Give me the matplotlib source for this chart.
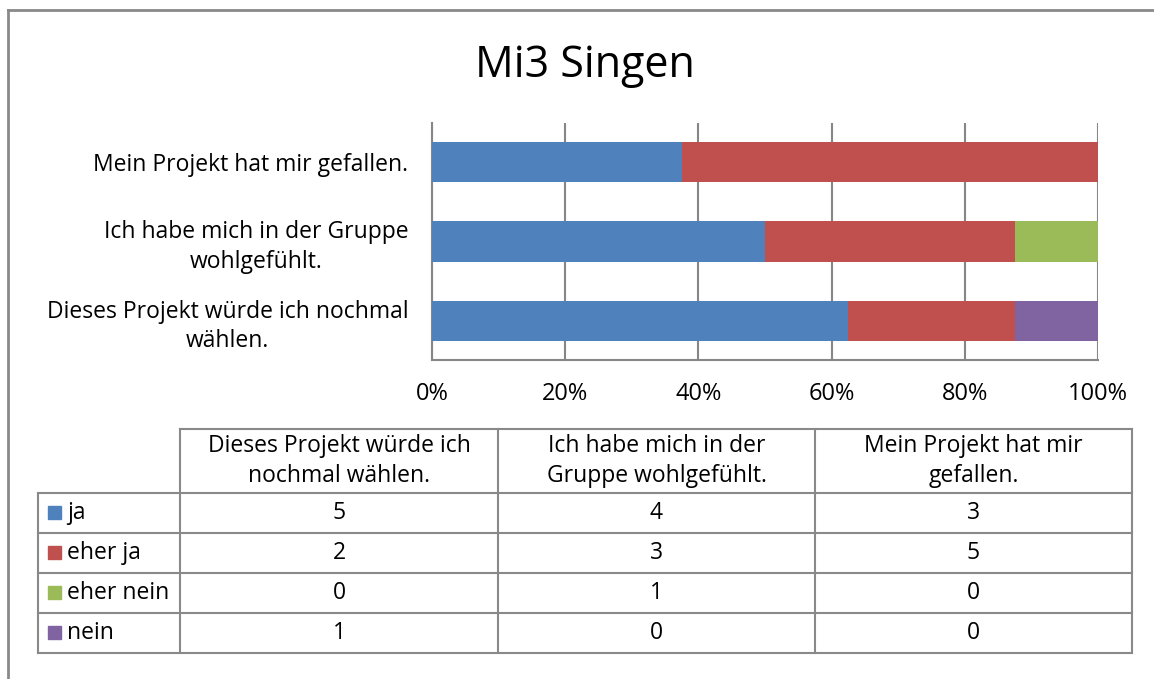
import numpy as np
import matplotlib.pyplot as plt

plt.rcParams['font.family'] = ['Open Sans', 'DejaVu Sans']

# data
questions = ['Dieses Projekt würde ich nochmal wählen.',
             'Ich habe mich in der Gruppe wohlgefühlt.',
             'Mein Projekt hat mir gefallen.']
axis_labels = ['Dieses Projekt würde ich nochmal\nwählen.',
               'Ich habe mich in der Gruppe\nwohlgefühlt.',
               'Mein Projekt hat mir gefallen.']
header_labels = ['Dieses Projekt würde ich\nnochmal wählen.',
                 'Ich habe mich in der\nGruppe wohlgefühlt.',
                 'Mein Projekt hat mir\ngefallen.']
answers = ['ja', 'eher ja', 'eher nein', 'nein']
ja = [5, 4, 3]
eher_ja = [2, 3, 5]
eher_nein = [0, 1, 0]
nein = [1, 0, 0]
colors = ['#4F81BD', '#C0504D', '#9BBB59', '#8064A2']

W, H = 1154, 679
fs = 16.5
fig = plt.figure(figsize=(W / 100, H / 100), dpi=100)

series = np.array([ja, eher_ja, eher_nein, nein], dtype=float)
totals = series.sum(axis=0)
pct = series / totals * 100

# bar chart
ax = fig.add_axes([432 / W, 1 - 360 / H, 666 / W, 237 / H])
y = np.arange(len(questions))
left = np.zeros(len(questions))
for i in range(len(answers)):
    ax.barh(y, pct[i], left=left, height=0.503, color=colors[i], zorder=3)
    left += pct[i]
ax.set_xlim(0, 100)
ax.set_ylim(-0.49, 2.49)
ax.set_xticks(np.arange(0, 101, 20))
ax.set_xticklabels([f'{v}%' for v in range(0, 101, 20)], fontsize=fs + 0.5)
ax.set_yticks(y)
ax.set_yticklabels(axis_labels, fontsize=fs, multialignment='center', linespacing=1.3)
ax.tick_params(length=0, pad=17, axis='y')
ax.tick_params(length=0, pad=16, axis='x')
ax.grid(axis='x', color='#868686', linewidth=1.5, zorder=0)
for s in ['top', 'right']:
    ax.spines[s].set_visible(False)
for s in ['left', 'bottom']:
    ax.spines[s].set_color('#868686')
    ax.spines[s].set_linewidth(1.5)

# overlay for table and frame, in pixel coordinates
ov = fig.add_axes([0, 0, 1, 1], zorder=5)
ov.set_xlim(0, W)
ov.set_ylim(H, 0)
ov.axis('off')
ov.patch.set_alpha(0)

gc = '#898989'
ov.plot([8, W], [10, 10], color=gc, lw=2)
ov.plot([8, 8], [10, H], color=gc, lw=2)

fig.text(585 / W, 1 - 66 / H, 'Mi3 Singen', fontsize=31, ha='center', va='center')

col_x = [38, 180, 498, 815, 1132]
row_y = [429, 493, 533, 573, 613, 653]
# grid of the data table
ov.plot([180, 1132], [row_y[0], row_y[0]], color=gc, lw=1.5)
for yy in row_y[1:]:
    ov.plot([col_x[0], col_x[-1]], [yy, yy], color=gc, lw=1.5)
ov.plot([col_x[0], col_x[0]], [row_y[1], row_y[-1]], color=gc, lw=1.5)
for xx in col_x[1:]:
    ov.plot([xx, xx], [row_y[0], row_y[-1]], color=gc, lw=1.5)

for j, lab in enumerate(header_labels):
    cx = (col_x[j + 1] + col_x[j + 2]) / 2
    ov.text(cx, (row_y[0] + row_y[1]) / 2, lab, fontsize=fs, ha='center',
            va='center', multialignment='center', linespacing=1.3)

for i, name in enumerate(answers):
    cy = (row_y[i + 1] + row_y[i + 2]) / 2
    ov.add_patch(plt.Rectangle((48, cy - 7), 13, 13, color=colors[i]))
    ov.text(67, cy, name, fontsize=fs, ha='left', va='center')
    for j in range(len(questions)):
        cx = (col_x[j + 1] + col_x[j + 2]) / 2
        ov.text(cx, cy, str(int(series[i, j])), fontsize=fs, ha='center', va='center')

fig.savefig('out.png', dpi=100)
